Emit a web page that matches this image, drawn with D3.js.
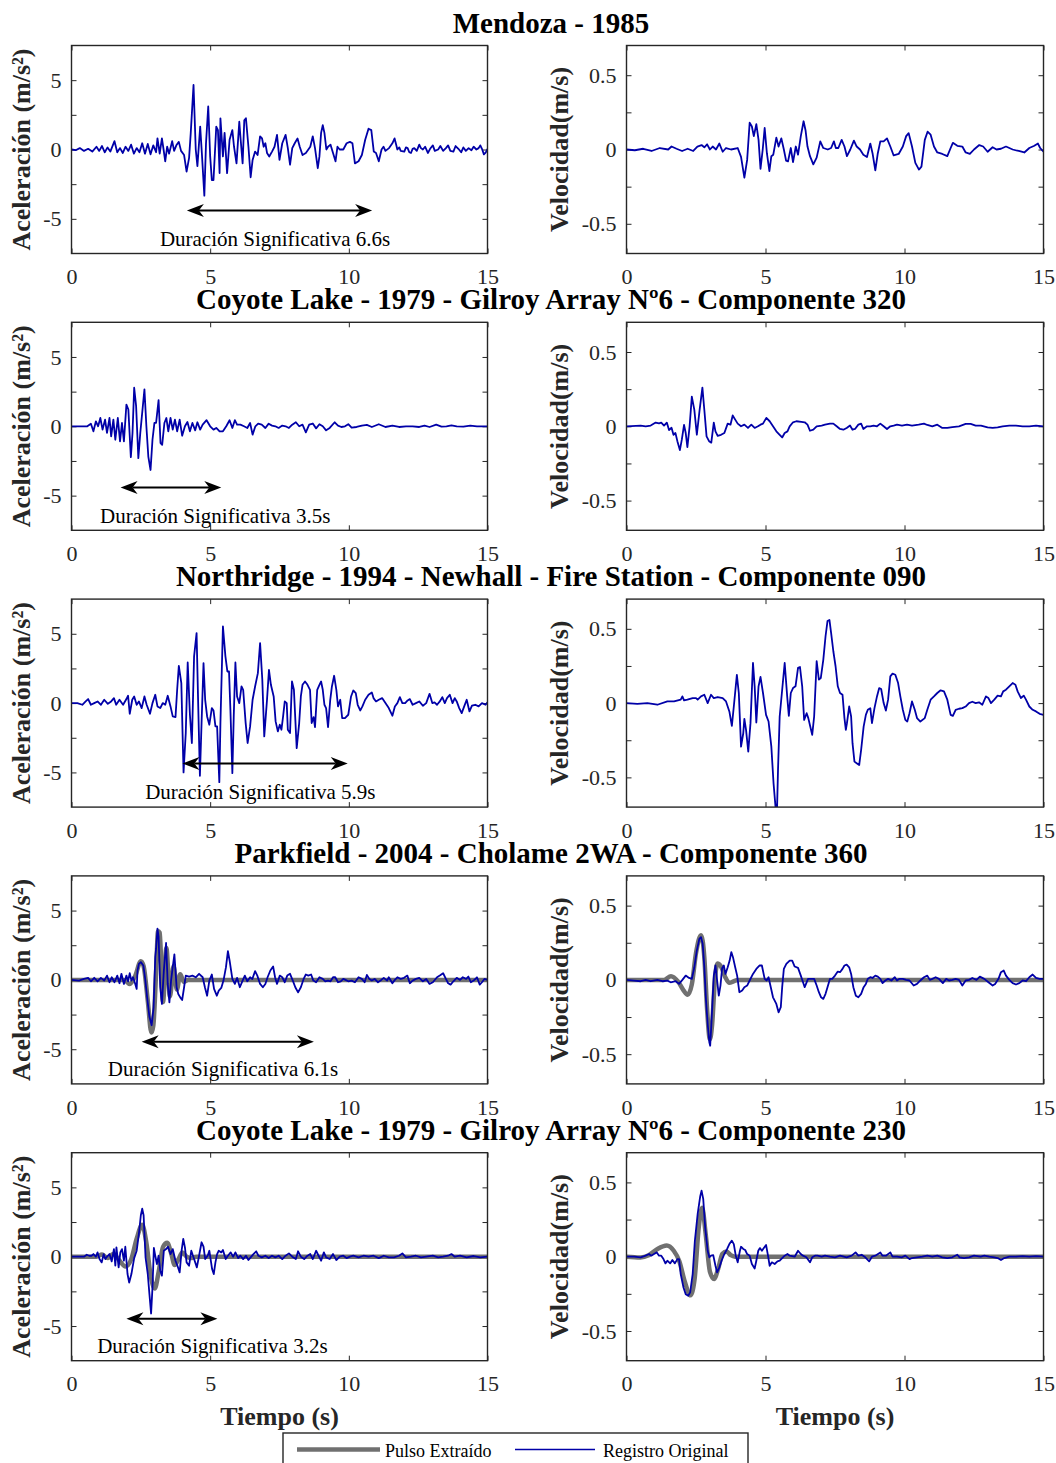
<!DOCTYPE html>
<html><head><meta charset="utf-8">
<script src="https://cdn.jsdelivr.net/npm/d3@7"></script>
<style>body{margin:0;background:#fff}svg{display:block}</style>
</head><body>
<svg id="c" width="1056" height="1463"></svg>
<script>
// ---------------- DATA ----------------
const titles = [
  "Mendoza - 1985",
  "Coyote Lake - 1979 - Gilroy Array Nº6 - Componente 320",
  "Northridge - 1994 - Newhall - Fire Station - Componente 090",
  "Parkfield - 2004 - Cholame 2WA - Componente 360",
  "Coyote Lake - 1979 - Gilroy Array Nº6 - Componente 230"
];
const durLabels = [
  "Duración Significativa 6.6s",
  "Duración Significativa 3.5s",
  "Duración Significativa 5.9s",
  "Duración Significativa 6.1s",
  "Duración Significativa 3.2s"
];
// arrow start (s), arrow end (s), arrow level (m/s²)
const durArrowStart = [4.16, 1.77, 4.0, 2.53, 1.98];
const durArrowEnd   = [10.84, 5.4, 9.96, 8.74, 5.26];
const durArrowLevel = [-4.4, -4.42, -4.36, -4.46, -4.47];
const durTextX      = [7.34, 5.18, 6.81, 5.46, 5.08];
const durTextLevel  = -6.95;

const timeTicks = [0, 5, 10, 15];
const accTicks = [-5, -2.5, 0, 2.5, 5];
const accTickLabels = [-5, 0, 5];
const velTicks = [-0.5, -0.25, 0, 0.25, 0.5];
const velTickLabels = [-0.5, 0, 0.5];
const legendLabels = ["Pulso Extraído", "Registro Original"];

const mendozaAcc = [[0,0],[0.15,-0.05],[0.3,0.1],[0.45,-0.1],[0.6,0.05],[0.75,-0.15],[0.9,0.2],[1.0,-0.1],[1.1,0.25],[1.2,-0.2],[1.3,0.15],[1.4,-0.15],[1.55,0.6],[1.65,-0.2],[1.75,0.1],[1.85,-0.25],[1.95,0.2],[2.05,-0.1],[2.15,0.35],[2.25,-0.3],[2.35,0.1],[2.45,-0.2],[2.55,0.45],[2.65,-0.3],[2.75,0.4],[2.85,-0.35],[2.95,0.3],[3.05,-0.2],[3.1,0.8],[3.18,-0.3],[3.26,0.8],[3.32,0.0],[3.38,-0.85],[3.45,0.2],[3.52,-0.3],[3.63,0.6],[3.7,-0.1],[3.78,0.3],[3.87,0.55],[3.95,-0.1],[4.06,-0.4],[4.15,-1.6],[4.24,-0.6],[4.3,1.2],[4.4,4.65],[4.48,0.0],[4.54,-1.2],[4.64,1.65],[4.7,-0.25],[4.79,-3.33],[4.85,0.45],[4.93,3.1],[5.0,-0.5],[5.06,-2.2],[5.12,-2.2],[5.22,1.65],[5.28,1.4],[5.34,-1.7],[5.37,2.25],[5.46,-0.5],[5.52,1.2],[5.61,-1.7],[5.7,0.7],[5.8,1.4],[5.86,0.2],[5.95,-1.0],[6.05,2.0],[6.1,0.7],[6.17,-1.0],[6.23,2.1],[6.29,2.25],[6.38,0.2],[6.46,-2.0],[6.53,-0.75],[6.62,-0.15],[6.71,-0.4],[6.8,0.95],[6.87,0.8],[6.93,0.2],[6.99,0.45],[7.05,-0.25],[7.13,-0.5],[7.23,-0.15],[7.32,0.2],[7.41,1.05],[7.5,-0.75],[7.6,0.45],[7.72,1.05],[7.8,0.1],[7.88,-1.1],[7.96,0.1],[8.05,0.45],[8.15,0.8],[8.23,0.2],[8.33,-0.4],[8.45,-0.25],[8.54,0.0],[8.61,0.2],[8.7,0.95],[8.78,0.1],[8.88,-1.35],[8.94,-0.5],[9.0,1.2],[9.06,1.75],[9.12,1.2],[9.19,0.0],[9.25,0.2],[9.34,0.35],[9.43,-0.25],[9.52,-0.85],[9.59,0.2],[9.67,0.0],[9.8,0.0],[9.92,0.45],[10.04,0.55],[10.13,0.45],[10.22,-1.0],[10.35,-0.85],[10.47,-0.4],[10.59,0.7],[10.71,1.5],[10.81,1.4],[10.9,-0.15],[10.98,-0.25],[11.08,-0.85],[11.18,0.0],[11.25,0.2],[11.32,-0.1],[11.45,0.1],[11.57,0.45],[11.65,0.8],[11.75,0.0],[11.82,0.15],[11.87,-0.1],[12.0,-0.15],[12.06,0.15],[12.12,0.1],[12.18,-0.2],[12.24,-0.25],[12.3,0.05],[12.36,0.1],[12.45,-0.1],[12.54,0.35],[12.6,0.1],[12.67,0.0],[12.75,0.2],[12.85,-0.25],[12.93,0.05],[13.03,0.3],[13.1,-0.1],[13.22,0.0],[13.3,0.25],[13.4,-0.1],[13.5,0.1],[13.58,0.3],[13.66,-0.1],[13.77,-0.15],[13.85,0.25],[13.95,0.05],[14.05,-0.2],[14.13,0.15],[14.22,-0.1],[14.32,0.1],[14.42,-0.05],[14.5,0.2],[14.6,0.0],[14.68,0.1],[14.74,0.3],[14.8,0.05],[14.87,-0.35],[14.94,-0.2],[15.0,0.05]];

const mendozaVel = [[0,0],[0.3,-0.005],[0.6,0.005],[0.9,-0.01],[1.2,0.01],[1.5,0.0],[1.62,0.02],[1.8,0.005],[2.0,-0.01],[2.2,0.005],[2.4,-0.01],[2.55,0.02],[2.7,0.03],[2.8,0.015],[2.9,0.035],[3.0,0.0],[3.1,0.02],[3.22,0.0],[3.34,0.04],[3.46,-0.015],[3.58,0.01],[3.76,0.0],[4.0,0.01],[4.12,-0.05],[4.24,-0.19],[4.34,-0.07],[4.43,0.18],[4.51,0.155],[4.58,0.09],[4.67,0.17],[4.75,0.065],[4.82,-0.13],[4.9,0.0],[4.97,0.145],[5.05,-0.025],[5.14,-0.145],[5.21,-0.045],[5.28,-0.035],[5.39,0.08],[5.47,0.02],[5.57,0.075],[5.66,0.0],[5.74,-0.075],[5.81,-0.08],[5.91,0.01],[5.99,-0.085],[6.09,0.02],[6.17,-0.035],[6.27,0.09],[6.37,0.19],[6.44,0.13],[6.51,0.02],[6.6,-0.045],[6.72,-0.1],[6.84,-0.055],[6.97,0.055],[7.08,0.01],[7.24,0.0],[7.36,0.01],[7.46,0.055],[7.53,0.01],[7.62,0.01],[7.74,0.065],[7.84,0.02],[7.93,-0.045],[8.05,0.0],[8.18,0.06],[8.28,0.02],[8.4,0.0],[8.52,-0.035],[8.65,-0.05],[8.77,0.04],[8.85,-0.025],[8.95,-0.14],[9.04,-0.025],[9.13,0.055],[9.25,0.055],[9.37,0.075],[9.49,0.02],[9.61,-0.04],[9.79,-0.03],[9.94,0.02],[10.06,0.09],[10.15,0.11],[10.27,0.02],[10.39,-0.09],[10.52,-0.135],[10.61,-0.115],[10.73,0.065],[10.83,0.12],[10.94,0.1],[11.06,0.02],[11.18,-0.02],[11.36,-0.03],[11.54,-0.045],[11.66,0.01],[11.74,0.045],[11.9,0.025],[12.08,0.02],[12.2,-0.02],[12.35,-0.03],[12.5,0.0],[12.69,0.03],[12.83,0.02],[12.99,-0.015],[13.17,0.015],[13.31,0.0],[13.47,0.005],[13.65,0.02],[13.89,0.0],[14.11,-0.01],[14.31,-0.02],[14.49,0.01],[14.67,0.025],[14.8,0.04],[14.88,0.01],[15.0,-0.015]];

const coyote320Acc = [[0,0],[0.57,0],[0.7,0.19],[0.79,-0.36],[0.88,0.36],[0.96,0],[1.04,0.6],[1.12,-0.24],[1.21,0.48],[1.28,-0.48],[1.37,0.6],[1.43,-0.73],[1.51,0.48],[1.58,-0.97],[1.67,0.6],[1.75,-1.09],[1.82,0.24],[1.89,-1.09],[1.98,1.57],[2.05,1.21],[2.14,-2.23],[2.2,-0.48],[2.26,2.78],[2.33,1.45],[2.41,-2.3],[2.48,-0.48],[2.63,2.66],[2.7,0],[2.77,-2.18],[2.85,-3.15],[2.92,-0.97],[2.99,0.24],[3.05,0.24],[3.14,1.89],[3.21,-1.21],[3.27,-1.33],[3.35,0.24],[3.42,0.6],[3.49,-0.36],[3.57,0.6],[3.65,-0.24],[3.73,0.48],[3.81,-0.36],[3.9,0.48],[3.99,-0.68],[4.09,0],[4.18,0.31],[4.27,-0.36],[4.36,0.24],[4.46,-0.29],[4.54,0.29],[4.64,-0.24],[4.73,0.12],[4.87,0.44],[5.0,0],[5.12,-0.24],[5.22,-0.12],[5.34,-0.36],[5.46,-0.36],[5.58,0],[5.7,0.44],[5.8,-0.12],[5.89,0.44],[5.97,0.12],[6.09,0.12],[6.22,0],[6.34,-0.12],[6.44,0.24],[6.53,-0.6],[6.63,0],[6.73,0.19],[6.86,0.12],[6.99,-0.12],[7.11,0.19],[7.23,0.05],[7.35,0],[7.47,-0.12],[7.6,0.05],[7.72,0],[7.84,-0.12],[7.96,0.12],[8.09,0.29],[8.21,0],[8.33,0.12],[8.45,-0.44],[8.57,0.12],[8.7,0.2],[8.82,-0.15],[8.94,0.15],[9.06,0],[9.18,-0.29],[9.31,-0.12],[9.49,0.29],[9.61,0.05],[9.73,-0.05],[9.86,0],[9.98,0.15],[10.1,-0.1],[10.28,-0.05],[10.47,0.05],[10.65,0.1],[10.83,-0.05],[11.08,0.15],[11.32,-0.05],[11.57,0.05],[11.81,-0.05],[12.06,0],[12.3,0],[12.54,-0.05],[12.73,0.05],[12.91,-0.05],[13.15,0.12],[13.34,-0.02],[13.52,0],[13.7,0.07],[13.89,0],[14.13,-0.02],[14.38,0.05],[14.62,0],[15,0]];

const coyote320Vel = [[0,0],[0.51,0.005],[0.69,0],[0.87,0.005],[1.05,0.025],[1.17,0.02],[1.25,0.025],[1.35,0.005],[1.45,0.025],[1.53,-0.025],[1.62,-0.01],[1.69,-0.057],[1.76,-0.045],[1.83,-0.1],[1.92,-0.16],[1.99,-0.09],[2.07,0.01],[2.13,-0.045],[2.19,-0.14],[2.27,0.0],[2.35,0.2],[2.44,0.11],[2.53,-0.057],[2.63,0.11],[2.73,0.26],[2.8,0.11],[2.88,-0.068],[2.97,-0.1],[3.05,-0.11],[3.14,0.025],[3.2,-0.034],[3.28,-0.064],[3.4,-0.057],[3.52,-0.045],[3.64,0.018],[3.74,0.011],[3.82,0.073],[3.91,0.045],[4.0,0.018],[4.12,0],[4.24,0.011],[4.37,-0.011],[4.49,0.011],[4.61,-0.011],[4.73,0],[4.82,0.011],[4.91,0.018],[5.03,0.057],[5.15,0.034],[5.27,0],[5.39,-0.034],[5.51,-0.057],[5.6,-0.075],[5.69,-0.045],[5.79,-0.034],[5.87,0],[5.99,0.027],[6.11,0.034],[6.29,0.03],[6.41,0.027],[6.51,0.011],[6.6,-0.03],[6.72,-0.023],[6.84,0],[7.02,0.005],[7.14,0.011],[7.32,0.018],[7.44,0.018],[7.56,0],[7.68,-0.018],[7.8,-0.023],[7.92,-0.011],[8.04,0.005],[8.13,-0.023],[8.22,-0.018],[8.34,0.011],[8.44,0.018],[8.52,-0.018],[8.65,0],[8.77,0],[8.89,0.005],[9.01,0],[9.13,0.018],[9.25,0],[9.37,-0.018],[9.49,0],[9.61,0.005],[9.73,0.011],[9.91,0.005],[10.09,0.011],[10.27,0.005],[10.51,0.011],[10.7,0.018],[10.82,0.009],[11.0,0],[11.18,0.011],[11.36,-0.011],[11.54,-0.011],[11.72,-0.005],[11.96,0],[12.2,0.016],[12.38,0.016],[12.56,0.005],[12.75,0.005],[12.99,-0.007],[13.17,-0.011],[13.35,-0.007],[13.53,0],[13.77,0.005],[14.01,0.005],[14.25,0],[14.49,0],[14.73,0.005],[15,0]];

const northridgeAcc = [[0,0],[0.21,0],[0.39,-0.12],[0.51,0.12],[0.6,0.29],[0.7,-0.12],[0.82,0],[0.94,0.12],[1.06,-0.12],[1.18,0.24],[1.31,-0.05],[1.43,0.12],[1.53,0.36],[1.61,-0.12],[1.73,0.24],[1.86,-0.12],[1.98,0.29],[2.04,0.53],[2.1,-0.77],[2.19,0.24],[2.26,0.48],[2.35,-0.12],[2.43,0.12],[2.53,-0.36],[2.63,0.48],[2.71,-0.12],[2.83,-0.77],[2.92,0],[3.02,0.6],[3.1,-0.24],[3.2,-0.36],[3.29,0],[3.38,-0.12],[3.47,0.53],[3.57,-0.24],[3.65,-0.96],[3.75,-1.01],[3.81,0.96],[3.87,2.69],[3.96,1.44],[4.04,-5.0],[4.12,-2.16],[4.19,2.93],[4.27,-0.84],[4.34,-2.88],[4.42,3.37],[4.51,5.05],[4.57,-0.24],[4.63,-5.24],[4.69,-1.44],[4.76,2.88],[4.82,0.24],[4.89,-0.96],[4.97,-1.56],[5.06,-0.36],[5.12,-0.53],[5.19,-1.68],[5.25,-1.68],[5.33,-5.7],[5.37,-1.44],[5.46,5.53],[5.55,3.37],[5.62,2.28],[5.68,2.28],[5.73,-0.48],[5.8,-5.05],[5.85,-0.96],[5.91,2.93],[5.97,0.48],[6.05,0],[6.13,1.2],[6.19,0.96],[6.28,-1.44],[6.35,-2.88],[6.44,-1.68],[6.53,0.24],[6.62,1.2],[6.72,2.16],[6.8,4.33],[6.88,1.68],[6.95,-2.4],[7.05,0.24],[7.12,2.4],[7.19,1.32],[7.29,0.48],[7.36,-1.32],[7.44,-2.04],[7.51,-1.56],[7.57,-1.92],[7.63,-0.96],[7.69,0.12],[7.76,0],[7.8,-1.92],[7.88,-2.16],[7.95,1.56],[8.02,0.96],[8.12,-3.25],[8.21,-1.44],[8.27,0.48],[8.33,1.32],[8.42,1.56],[8.51,1.32],[8.6,0.96],[8.66,-1.44],[8.73,-1.01],[8.78,-1.73],[8.86,0.96],[8.94,1.32],[9.0,1.56],[9.06,0.96],[9.12,-0.12],[9.18,-0.36],[9.25,-1.73],[9.33,0.24],[9.39,1.2],[9.47,1.97],[9.55,0.96],[9.61,-0.24],[9.69,0.24],[9.76,-1.08],[9.86,-1.08],[9.98,-0.84],[10.08,0.48],[10.16,0.91],[10.25,0.72],[10.32,-0.12],[10.41,-0.53],[10.49,-0.24],[10.59,0.24],[10.71,0.6],[10.83,0.77],[10.89,0.36],[10.98,0.12],[11.08,0.24],[11.2,0.36],[11.32,0],[11.44,-0.36],[11.57,-0.91],[11.66,-0.24],[11.75,0],[11.84,0.43],[11.93,0],[12.03,0],[12.12,0.19],[12.2,0.29],[12.3,-0.12],[12.42,0],[12.54,0.12],[12.67,-0.19],[12.79,0],[12.91,0.67],[13.01,0],[13.09,0.05],[13.18,-0.12],[13.28,0.12],[13.37,0.43],[13.46,0],[13.54,0.36],[13.64,0.6],[13.74,0],[13.82,0.36],[13.89,0.12],[13.98,-0.36],[14.07,-0.72],[14.16,-0.24],[14.25,0.24],[14.35,-0.6],[14.44,-0.19],[14.56,-0.12],[14.68,-0.24],[14.8,0],[14.93,-0.12],[15,0.05]];

const northridgeVel = [[0,0],[0.39,-0.005],[0.75,0],[1.11,-0.011],[1.47,0.011],[1.71,0.011],[1.95,0.023],[2.01,0.045],[2.07,0.018],[2.19,0.023],[2.38,0.034],[2.5,0.034],[2.56,0.023],[2.68,0.045],[2.8,0.056],[2.92,0],[3.04,0.056],[3.14,0.034],[3.28,0.041],[3.46,0.034],[3.58,0.011],[3.7,-0.056],[3.79,-0.153],[3.86,-0.023],[3.97,0.19],[4.04,0.068],[4.12,-0.293],[4.2,-0.203],[4.24,-0.106],[4.3,-0.18],[4.38,-0.327],[4.46,-0.135],[4.55,0.27],[4.61,0.113],[4.67,-0.131],[4.75,0.113],[4.82,0.176],[4.91,0.068],[5.02,-0.079],[5.11,-0.124],[5.21,-0.293],[5.29,-0.541],[5.37,-0.72],[5.41,-0.75],[5.45,-0.45],[5.51,-0.09],[5.6,0.09],[5.69,0.27],[5.78,0.045],[5.84,-0.086],[5.91,0.068],[5.99,0.101],[6.08,0.113],[6.17,0.237],[6.24,0.243],[6.32,0.113],[6.39,-0.113],[6.48,-0.068],[6.54,-0.101],[6.61,-0.158],[6.68,-0.214],[6.75,-0.09],[6.84,0.282],[6.92,0.158],[6.99,0.169],[7.08,0.293],[7.16,0.45],[7.23,0.552],[7.3,0.56],[7.36,0.473],[7.44,0.349],[7.52,0.248],[7.6,0.113],[7.68,0.068],[7.77,0.056],[7.84,-0.101],[7.89,-0.18],[7.93,-0.135],[8.01,-0.023],[8.08,-0.09],[8.13,-0.27],[8.2,-0.394],[8.28,-0.405],[8.37,-0.417],[8.44,-0.315],[8.53,-0.158],[8.61,-0.079],[8.68,-0.045],[8.77,-0.034],[8.83,-0.135],[8.92,-0.034],[9.01,0.045],[9.09,0.101],[9.16,0.095],[9.25,0],[9.33,-0.05],[9.41,0.023],[9.49,0.18],[9.57,0.198],[9.67,0.191],[9.77,0.135],[9.85,0.045],[9.94,-0.045],[10.03,-0.113],[10.1,-0.124],[10.18,-0.068],[10.27,0.011],[10.37,-0.045],[10.45,-0.101],[10.57,-0.124],[10.73,-0.101],[10.82,-0.045],[10.94,0.023],[11.06,0.045],[11.18,0.068],[11.3,0.086],[11.42,0.079],[11.54,0.023],[11.66,-0.079],[11.74,-0.086],[11.84,-0.045],[11.96,-0.038],[12.08,-0.034],[12.2,-0.023],[12.32,0],[12.44,0.009],[12.56,0],[12.68,0.005],[12.8,-0.011],[12.93,0.045],[13.02,0.034],[13.11,0],[13.23,0.023],[13.35,0.05],[13.47,0.045],[13.55,0.079],[13.65,0.09],[13.77,0.113],[13.89,0.135],[13.99,0.124],[14.07,0.079],[14.19,0.034],[14.29,0.05],[14.37,0.023],[14.49,-0.023],[14.61,-0.045],[14.73,-0.056],[14.86,-0.072],[15.0,-0.079]];

const parkfieldAcc = [[0,0],[0.27,-0.05],[0.45,0.07],[0.6,0.15],[0.7,-0.1],[0.82,0.15],[0.94,-0.1],[1.06,0.15],[1.18,-0.05],[1.28,0.31],[1.37,-0.17],[1.45,0.19],[1.55,-0.17],[1.65,0.31],[1.73,-0.24],[1.8,0.44],[1.89,-0.29],[1.98,0.31],[2.04,-0.1],[2.1,0.48],[2.16,-0.05],[2.22,0.19],[2.28,-0.17],[2.35,-0.65],[2.38,0.68],[2.43,1.16],[2.5,1.28],[2.59,1.04],[2.65,0.19],[2.74,-1.5],[2.81,-2.66],[2.89,-3.27],[2.96,-1.99],[3.02,1.65],[3.05,2.25],[3.1,3.7],[3.14,3.1],[3.2,-0.53],[3.26,-1.74],[3.33,0.68],[3.41,2.66],[3.47,-0.29],[3.53,-1.62],[3.59,-0.05],[3.65,0.92],[3.71,1.84],[3.79,-0.53],[3.85,-1.02],[3.92,-1.26],[3.99,-1.45],[4.06,-0.53],[4.12,0.31],[4.24,0.24],[4.36,0.31],[4.48,0.19],[4.6,0.44],[4.73,0.19],[4.81,-0.53],[4.89,-1.14],[4.97,-0.05],[5.06,0.39],[5.14,-0.65],[5.24,-1.14],[5.31,-0.77],[5.4,-0.58],[5.48,-0.05],[5.57,0.92],[5.64,2.08],[5.7,1.4],[5.8,0.07],[5.89,-0.29],[5.97,0.15],[6.07,-0.53],[6.17,-0.05],[6.25,0.31],[6.34,-0.1],[6.44,0.19],[6.52,0.07],[6.62,0.63],[6.7,0.31],[6.8,-0.29],[6.9,-0.53],[6.99,-0.29],[7.07,0.19],[7.17,0.68],[7.27,0.97],[7.34,0.19],[7.41,-0.29],[7.51,0.31],[7.6,0.19],[7.69,-0.17],[7.78,0.31],[7.88,0.44],[7.98,-0.05],[8.07,-0.53],[8.17,-0.9],[8.27,-0.53],[8.37,0.07],[8.45,0.39],[8.54,0.31],[8.64,0.39],[8.72,-0.05],[8.82,-0.17],[8.94,0.19],[9.06,0.07],[9.15,-0.1],[9.25,-0.05],[9.34,-0.1],[9.43,0.19],[9.51,0.19],[9.61,-0.17],[9.71,-0.1],[9.8,0.07],[9.88,0],[9.98,-0.1],[10.1,-0.05],[10.22,-0.17],[10.35,0.19],[10.47,0.07],[10.57,-0.17],[10.65,0.36],[10.74,0.07],[10.83,-0.05],[10.93,0.07],[11.05,-0.17],[11.17,0],[11.26,0.15],[11.38,-0.05],[11.44,0.19],[11.57,-0.24],[11.66,0],[11.75,0.19],[11.87,0.07],[11.99,0.15],[12.11,0.31],[12.2,-0.24],[12.3,-0.05],[12.42,0.07],[12.54,0.15],[12.67,-0.1],[12.79,0.07],[12.91,-0.29],[13.03,-0.17],[13.18,0.19],[13.28,0.31],[13.4,0.48],[13.5,0.07],[13.58,-0.24],[13.67,-0.34],[13.77,-0.1],[13.89,0.15],[14.01,0],[14.11,0.19],[14.23,0.07],[14.31,0.24],[14.4,-0.17],[14.5,-0.05],[14.62,0.19],[14.72,-0.34],[14.8,-0.17],[14.89,0.07],[15,0]];

const parkfieldAccPulse = [[0,0],[1.9,0],[2.1,-0.3],[2.3,0.3],[2.5,1.35],[2.6,1.0],[2.75,-1.5],[2.88,-3.8],[2.95,-3.3],[3.05,0.5],[3.12,3.5],[3.18,3.4],[3.3,-1.6],[3.42,2.3],[3.55,-1.2],[3.68,1.0],[3.8,-0.7],[3.92,0.4],[4.05,-0.15],[4.2,0],[15,0]];

const parkfieldVel = [[0,0],[0.27,-0.005],[0.51,-0.009],[0.69,0],[0.87,-0.009],[1.11,0],[1.29,-0.009],[1.47,-0.005],[1.59,-0.016],[1.77,-0.009],[1.89,-0.027],[2.01,0],[2.13,0.029],[2.25,0.013],[2.35,0.007],[2.44,0.085],[2.53,0.198],[2.62,0.276],[2.68,0.288],[2.74,0.243],[2.8,0.085],[2.86,-0.139],[2.92,-0.297],[2.98,-0.42],[3.01,-0.443],[3.06,-0.274],[3.14,0.029],[3.2,0.097],[3.26,-0.004],[3.32,-0.106],[3.38,-0.038],[3.44,0.079],[3.5,0.097],[3.56,0.04],[3.64,0.085],[3.71,0.13],[3.77,0.187],[3.83,0.153],[3.91,0.085],[3.98,0.029],[4.06,-0.083],[4.16,-0.072],[4.24,-0.049],[4.34,-0.038],[4.43,-0.004],[4.55,0.04],[4.67,0.074],[4.79,0.097],[4.87,0.097],[4.97,0.007],[5.04,-0.004],[5.11,0.018],[5.19,-0.049],[5.27,-0.117],[5.39,-0.162],[5.47,-0.218],[5.55,-0.184],[5.6,-0.049],[5.66,0.074],[5.75,0.108],[5.87,0.13],[5.96,0.13],[6.05,0.09],[6.17,0.081],[6.27,0.029],[6.35,-0.016],[6.41,-0.049],[6.53,0.007],[6.66,0.007],[6.75,0.007],[6.84,-0.038],[6.92,-0.083],[7.0,-0.117],[7.08,-0.128],[7.16,-0.094],[7.23,-0.049],[7.32,0.007],[7.4,0.007],[7.5,0.029],[7.6,0.056],[7.68,0.052],[7.77,0.074],[7.84,0.097],[7.92,0.103],[8.01,0.085],[8.08,0.04],[8.16,-0.049],[8.25,-0.106],[8.34,-0.117],[8.44,-0.094],[8.53,-0.049],[8.61,-0.027],[8.68,0.007],[8.77,0.018],[8.85,0.013],[8.95,0.029],[9.04,0.022],[9.13,0.007],[9.21,-0.022],[9.31,-0.004],[9.41,0.007],[9.53,-0.004],[9.65,0.018],[9.73,-0.004],[9.82,0.007],[9.94,0.007],[10.06,0],[10.18,-0.004],[10.33,-0.038],[10.45,-0.027],[10.57,-0.004],[10.7,0.018],[10.82,0.029],[10.91,0],[11.0,0.007],[11.12,0.018],[11.24,0.007],[11.38,-0.022],[11.5,0.007],[11.6,-0.004],[11.72,0],[11.84,0.007],[11.96,0],[12.08,-0.038],[12.2,-0.004],[12.32,0],[12.44,0.013],[12.59,0],[12.71,0.022],[12.87,0.007],[13.02,-0.016],[13.17,-0.038],[13.26,-0.027],[13.38,0.007],[13.47,0.052],[13.57,0.063],[13.65,0.029],[13.77,0],[13.89,-0.022],[14.01,-0.031],[14.13,-0.022],[14.25,-0.004],[14.37,-0.009],[14.49,0.018],[14.61,0.036],[14.73,0.013],[14.86,0.007],[15,0.007]];

const parkfieldVelPulse = [[0,0],[1.35,0],[1.6,0.025],[1.85,-0.01],[2.05,-0.07],[2.2,-0.1],[2.35,-0.03],[2.5,0.18],[2.68,0.3],[2.8,0.15],[2.9,-0.2],[3.0,-0.4],[3.08,-0.3],[3.18,0.0],[3.27,0.11],[3.4,0.09],[3.55,0.02],[3.7,-0.02],[3.85,-0.01],[4.0,0],[15,0]];

const coyote230Acc = [[0,0],[0.27,0],[0.45,0],[0.55,0.14],[0.64,0.07],[0.72,0.07],[0.79,0.19],[0.88,0],[0.94,0.31],[1.01,-0.17],[1.09,-0.41],[1.16,0.19],[1.22,-0.17],[1.28,0],[1.37,0.19],[1.45,-0.34],[1.53,0.55],[1.58,-0.65],[1.62,0.67],[1.7,-0.77],[1.76,0.31],[1.82,0.55],[1.89,-0.29],[1.94,0.72],[2.02,-1.25],[2.08,-1.86],[2.16,-1.25],[2.26,-0.1],[2.35,0.43],[2.43,1.64],[2.5,2.99],[2.55,3.47],[2.6,2.99],[2.67,-0.05],[2.75,-1.25],[2.81,-2.7],[2.87,-4.1],[2.92,-2.22],[2.97,0.63],[3.02,0.07],[3.08,-0.53],[3.14,0.07],[3.2,-1.01],[3.26,-1.37],[3.33,0.43],[3.41,0.55],[3.48,0.72],[3.57,0.19],[3.65,0.55],[3.75,-0.29],[3.82,-0.65],[3.9,-1.13],[3.97,0.43],[4.03,1.28],[4.09,0.67],[4.15,-0.41],[4.24,-0.65],[4.32,0.43],[4.42,-0.17],[4.52,-0.77],[4.6,0.07],[4.69,1.04],[4.76,0.72],[4.82,-0.17],[4.91,0.07],[4.97,0.43],[5.07,-0.89],[5.13,-1.25],[5.19,-0.41],[5.25,0.19],[5.31,0.43],[5.4,0.31],[5.46,0.48],[5.56,-0.17],[5.64,0.07],[5.74,0.31],[5.83,0],[5.91,0.31],[6.01,-0.1],[6.09,0.07],[6.19,-0.17],[6.29,0.07],[6.38,-0.24],[6.46,-0.05],[6.56,0.19],[6.66,0.39],[6.74,0.07],[6.86,-0.05],[6.99,0.07],[7.11,-0.1],[7.23,0.07],[7.35,-0.05],[7.47,0.07],[7.6,-0.17],[7.72,0.07],[7.84,0.24],[7.96,0],[8.09,-0.17],[8.17,0.39],[8.27,0],[8.39,-0.17],[8.51,0.07],[8.61,0.19],[8.7,-0.17],[8.82,0.43],[8.91,0.07],[9.0,-0.29],[9.1,0.31],[9.18,-0.05],[9.31,-0.17],[9.43,0.19],[9.55,-0.24],[9.67,0],[9.8,0.07],[9.92,-0.1],[10.04,0],[10.16,0.07],[10.35,-0.05],[10.53,0.07],[10.71,0],[10.89,0.07],[11.08,-0.1],[11.26,0.07],[11.44,-0.05],[11.63,-0.05],[11.81,0.07],[11.93,0.24],[12.06,-0.05],[12.24,0],[12.42,0.07],[12.6,-0.05],[12.79,0],[13.03,0.07],[13.22,-0.05],[13.4,0],[13.58,0.07],[13.7,0.19],[13.82,0],[14.01,0.07],[14.25,-0.05],[14.5,0.05],[14.74,-0.05],[15,0]];

const coyote230AccPulse = [[0,0],[0.9,0],[1.1,0.15],[1.3,-0.1],[1.5,0.2],[1.7,-0.2],[1.95,-0.7],[2.15,-0.2],[2.35,1.3],[2.55,2.3],[2.7,1.0],[2.85,-1.3],[3.0,-2.3],[3.15,-1.0],[3.3,0.7],[3.45,1.0],[3.6,0.2],[3.72,-0.6],[3.85,-0.2],[4.0,0.3],[4.15,0.0],[4.3,-0.1],[4.5,0.0],[15,0]];

const coyote230Vel = [[0,0],[0.27,0],[0.51,-0.004],[0.69,0.007],[0.81,0.018],[0.89,0.007],[0.99,0.018],[1.09,0.029],[1.17,0.007],[1.25,0.007],[1.33,-0.016],[1.4,-0.045],[1.47,-0.027],[1.57,-0.045],[1.65,-0.022],[1.74,-0.045],[1.83,-0.016],[1.89,-0.016],[1.95,-0.117],[2.05,-0.207],[2.13,-0.252],[2.22,-0.263],[2.29,-0.24],[2.38,-0.117],[2.46,0.108],[2.56,0.288],[2.65,0.405],[2.7,0.445],[2.76,0.389],[2.83,0.198],[2.92,0.04],[2.98,-0.004],[3.04,0.007],[3.12,0.011],[3.2,-0.061],[3.26,-0.106],[3.34,-0.072],[3.42,-0.027],[3.52,0.018],[3.62,0.052],[3.7,0.085],[3.79,0.108],[3.86,0.085],[3.93,0.007],[4.0,-0.038],[4.08,0.04],[4.12,0.067],[4.2,0.052],[4.27,0.045],[4.34,0.018],[4.43,0.007],[4.51,-0.049],[4.61,-0.079],[4.67,-0.027],[4.74,0.04],[4.8,0.058],[4.87,0.04],[4.94,0.058],[5.02,0.079],[5.09,0.007],[5.15,-0.061],[5.23,-0.038],[5.33,-0.049],[5.43,-0.031],[5.51,-0.027],[5.6,-0.009],[5.69,0.007],[5.79,0.018],[5.87,0.007],[6.05,0],[6.17,0.04],[6.27,0.018],[6.35,0.007],[6.47,-0.004],[6.6,-0.038],[6.68,-0.004],[6.78,0.007],[6.87,0.007],[7.02,0],[7.14,0.007],[7.32,0],[7.5,-0.004],[7.68,0.007],[7.92,-0.004],[8.1,0.007],[8.24,0.029],[8.34,0.007],[8.46,0.013],[8.59,-0.004],[8.73,-0.031],[8.83,0],[8.95,0.007],[9.13,0.029],[9.21,0.007],[9.33,0.007],[9.49,0.029],[9.57,0],[9.73,0],[9.91,-0.004],[10.03,0.007],[10.18,-0.016],[10.27,-0.009],[10.45,-0.004],[10.64,0],[10.82,0.007],[11.0,0],[11.18,0.007],[11.36,-0.004],[11.54,-0.009],[11.72,-0.004],[11.9,0.013],[11.98,-0.004],[12.14,-0.009],[12.32,-0.004],[12.5,0.007],[12.74,0],[12.87,0.007],[13.05,0],[13.23,-0.004],[13.35,-0.009],[13.47,-0.022],[13.59,-0.009],[13.77,0],[14.01,0],[14.25,0.004],[14.49,0],[14.73,0.004],[15,0]];

const coyote230VelPulse = [[0,0],[0.5,-0.005],[0.8,0.01],[1.1,0.05],[1.45,0.075],[1.7,0.04],[1.9,-0.03],[2.1,-0.17],[2.3,-0.26],[2.45,-0.15],[2.6,0.2],[2.72,0.33],[2.85,0.15],[3.0,-0.1],[3.15,-0.15],[3.3,-0.08],[3.45,0.02],[3.6,0.035],[3.75,0.01],[3.9,0.0],[15,0]];

// ---------------- LAYOUT ----------------
const FONT = "'Liberation Serif','Times New Roman',Times,serif";
const INK = "#262626";
const BLUE = "#0000a8";
const GRAY = "#707070";
const LX0 = 71.5, LX1 = 487.5, RX0 = 626.5, RX1 = 1043.5;
const TOP0 = 45.5, STEP = 276.8, H = 208;

const rows = titles.map((t, i) => ({
  title: t,
  acc: [mendozaAcc, coyote320Acc, northridgeAcc, parkfieldAcc, coyote230Acc][i],
  vel: [mendozaVel, coyote320Vel, northridgeVel, parkfieldVel, coyote230Vel][i],
  accPulse: [null, null, null, parkfieldAccPulse, coyote230AccPulse][i],
  velPulse: [null, null, null, parkfieldVelPulse, coyote230VelPulse][i],
  dur: durLabels[i], a0: durArrowStart[i], a1: durArrowEnd[i], ay: durArrowLevel[i], tx: durTextX[i]
}));

const svg = d3.select("#c");
svg.append("rect").attr("width", 1056).attr("height", 1463).attr("fill", "#fff");
const defs = svg.append("defs");

function panel(id, x0, x1, top, yDomain, ticks, tickLabels, series, pulse, ylabel, ylabelX, isLast) {
  const bottom = top + H;
  const x = d3.scaleLinear().domain([0, 15]).range([x0, x1]);
  const y = d3.scaleLinear().domain(yDomain).range([bottom, top]);
  defs.append("clipPath").attr("id", id).append("rect")
    .attr("x", x0).attr("y", top).attr("width", x1 - x0).attr("height", H);
  const g = svg.append("g");
  const fmt = d => tickLabels.includes(d) ? String(d) : "";
  const styleAxis = sel => {
    sel.select(".domain").remove();
    sel.selectAll("line").attr("stroke", INK).attr("stroke-width", 1);
    sel.selectAll("text").attr("font-family", FONT).attr("font-size", 22).attr("fill", INK);
  };
  g.append("g").attr("transform", `translate(0,${bottom})`)
    .call(d3.axisBottom(x).tickValues(timeTicks).tickFormat(d => String(d)).tickSizeInner(-5).tickSizeOuter(0).tickPadding(15))
    .call(styleAxis);
  g.append("g").attr("transform", `translate(0,${top})`)
    .call(d3.axisTop(x).tickValues(timeTicks).tickFormat("").tickSizeInner(-5).tickSizeOuter(0))
    .call(styleAxis);
  g.append("g").attr("transform", `translate(${x0},0)`)
    .call(d3.axisLeft(y).tickValues(ticks).tickFormat(fmt).tickSizeInner(-5).tickSizeOuter(0).tickPadding(10))
    .call(styleAxis);
  g.append("g").attr("transform", `translate(${x1},0)`)
    .call(d3.axisRight(y).tickValues(ticks).tickFormat("").tickSizeInner(-5).tickSizeOuter(0))
    .call(styleAxis);

  const clipG = g.append("g").attr("clip-path", `url(#${id})`);
  if (pulse) {
    clipG.append("path").datum(pulse)
      .attr("d", d3.line().x(d => x(d[0])).y(d => y(d[1])).curve(d3.curveMonotoneX))
      .attr("fill", "none").attr("stroke", GRAY).attr("stroke-width", 4.5)
      .attr("stroke-linejoin", "round").attr("stroke-linecap", "round");
  }
  clipG.append("path").datum(series)
    .attr("d", d3.line().x(d => x(d[0])).y(d => y(d[1])))
    .attr("fill", "none").attr("stroke", BLUE).attr("stroke-width", 1.8)
    .attr("stroke-linejoin", "round");

  g.append("rect").attr("x", x0).attr("y", top).attr("width", x1 - x0).attr("height", H)
    .attr("fill", "none").attr("stroke", INK).attr("stroke-width", 1.4);

  g.append("text")
    .attr("transform", `translate(${ylabelX},${(top + bottom) / 2}) rotate(-90)`)
    .attr("text-anchor", "middle").attr("font-family", FONT).attr("font-weight", "bold")
    .attr("font-size", 26).attr("fill", INK).text(ylabel);

  if (isLast) {
    g.append("text").attr("x", (x0 + x1) / 2).attr("y", bottom + 64)
      .attr("text-anchor", "middle").attr("font-family", FONT).attr("font-weight", "bold")
      .attr("font-size", 26).attr("fill", INK).text("Tiempo (s)");
  }
  return { x, y, g };
}

function arrowHead(g, xt, yt, dir) {
  // dir = -1 pointing left, +1 pointing right
  const L = 17, W = 6.5, N = 12;
  const p = d3.path();
  p.moveTo(xt, yt);
  p.lineTo(xt - dir * L, yt - W);
  p.lineTo(xt - dir * N, yt);
  p.lineTo(xt - dir * L, yt + W);
  p.closePath();
  g.append("path").attr("d", p.toString()).attr("fill", "#000");
}

rows.forEach((r, i) => {
  const top = TOP0 + i * STEP;
  const last = i === rows.length - 1;
  const A = panel("ca" + i, LX0, LX1, top, [-7.5, 7.5], accTicks, accTickLabels, r.acc, r.accPulse, "Aceleración (m/s²)", 29.5, last);
  panel("cv" + i, RX0, RX1, top, [-0.7, 0.7], velTicks, velTickLabels, r.vel, r.velPulse, "Velocidad(m/s)", 567.5, last);

  // title
  svg.append("text").attr("x", 551).attr("y", top - 13)
    .attr("text-anchor", "middle").attr("font-family", FONT).attr("font-weight", "bold")
    .attr("font-size", 29).attr("fill", "#000").text(r.title);

  // significant duration arrow
  const xa = A.x(r.a0), xb = A.x(r.a1), ya = A.y(r.ay);
  A.g.append("line").attr("x1", xa + 12).attr("x2", xb - 12).attr("y1", ya).attr("y2", ya)
    .attr("stroke", "#000").attr("stroke-width", 2);
  arrowHead(A.g, xa, ya, -1);
  arrowHead(A.g, xb, ya, 1);
  A.g.append("text").attr("x", A.x(r.tx)).attr("y", A.y(durTextLevel))
    .attr("text-anchor", "middle").attr("font-family", FONT).attr("font-size", 21)
    .attr("fill", "#000").text(r.dur);
});

// legend
const lg = svg.append("g");
lg.append("rect").attr("x", 283).attr("y", 1433).attr("width", 465).attr("height", 40)
  .attr("fill", "#fff").attr("stroke", INK).attr("stroke-width", 1.4);
lg.append("line").attr("x1", 297).attr("x2", 380).attr("y1", 1449.5).attr("y2", 1449.5)
  .attr("stroke", GRAY).attr("stroke-width", 4.5);
lg.append("text").attr("x", 385).attr("y", 1457).attr("font-family", FONT).attr("font-size", 18)
  .attr("fill", "#000").text(legendLabels[0]);
lg.append("line").attr("x1", 515).attr("x2", 595).attr("y1", 1449.5).attr("y2", 1449.5)
  .attr("stroke", BLUE).attr("stroke-width", 1.5);
lg.append("text").attr("x", 603).attr("y", 1457).attr("font-family", FONT).attr("font-size", 18)
  .attr("fill", "#000").text(legendLabels[1]);
</script>
</body></html>
